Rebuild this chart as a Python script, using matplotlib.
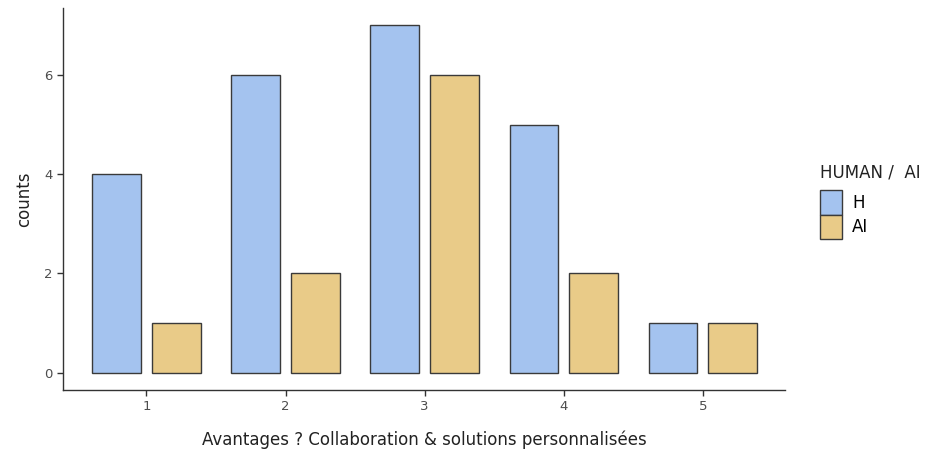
import numpy as np
from matplotlib import pyplot as plt
from matplotlib.patches import Patch

categories = ["1", "2", "3", "4", "5"]
human_counts = [4, 6, 7, 5, 1]
ai_counts = [1, 2, 6, 2, 1]

BLUE = "#A4C3EF"
TAN = "#E9CB88"
EDGE = "#3a3a3a"

fig = plt.figure(figsize=(9.49, 4.61), dpi=100)
ax = fig.add_axes([63 / 949, 1 - 390 / 461, (785 - 63) / 949, (390 - 8) / 461])

x = np.arange(1, len(categories) + 1)
width = 0.35
offset = 0.215
ax.bar(x - offset, human_counts, width, color=BLUE, edgecolor=EDGE, linewidth=1.0)
ax.bar(x + offset, ai_counts, width, color=TAN, edgecolor=EDGE, linewidth=1.0)

ax.set_xlim(0.4, 5.59)
ax.set_ylim(-0.35, 7.35)
ax.set_xticks(x)
ax.set_xticklabels(categories)
ax.set_yticks([0, 2, 4, 6])

for side in ["top", "right"]:
    ax.spines[side].set_visible(False)
for side in ["left", "bottom"]:
    ax.spines[side].set_color("#333333")
    ax.spines[side].set_linewidth(1.0)
ax.tick_params(colors="#333333", labelcolor="#4D4D4D", labelsize=9.5, length=4, width=1.0)

ax.set_xlabel("Avantages ? Collaboration & solutions personnalisées", fontsize=12, color="#222222", labelpad=12)
ax.set_ylabel("counts", fontsize=12, color="#222222", labelpad=8)

handles = [Patch(facecolor=BLUE, edgecolor=EDGE, label="H"),
           Patch(facecolor=TAN, edgecolor=EDGE, label="AI")]
leg = fig.legend(handles=handles, title="HUMAN /  AI", loc="upper left",
                 bbox_to_anchor=(808 / 949, 1 - 152 / 461), frameon=False,
                 fontsize=12, title_fontsize=12, handlelength=1.35, handleheight=1.9,
                 handletextpad=0.6, labelspacing=0.0, borderpad=0.2)
leg._legend_box.align = "left"
leg._legend_box.sep = 6
leg.get_title().set_color("#222222")

plt.savefig("out.png", dpi=100)
